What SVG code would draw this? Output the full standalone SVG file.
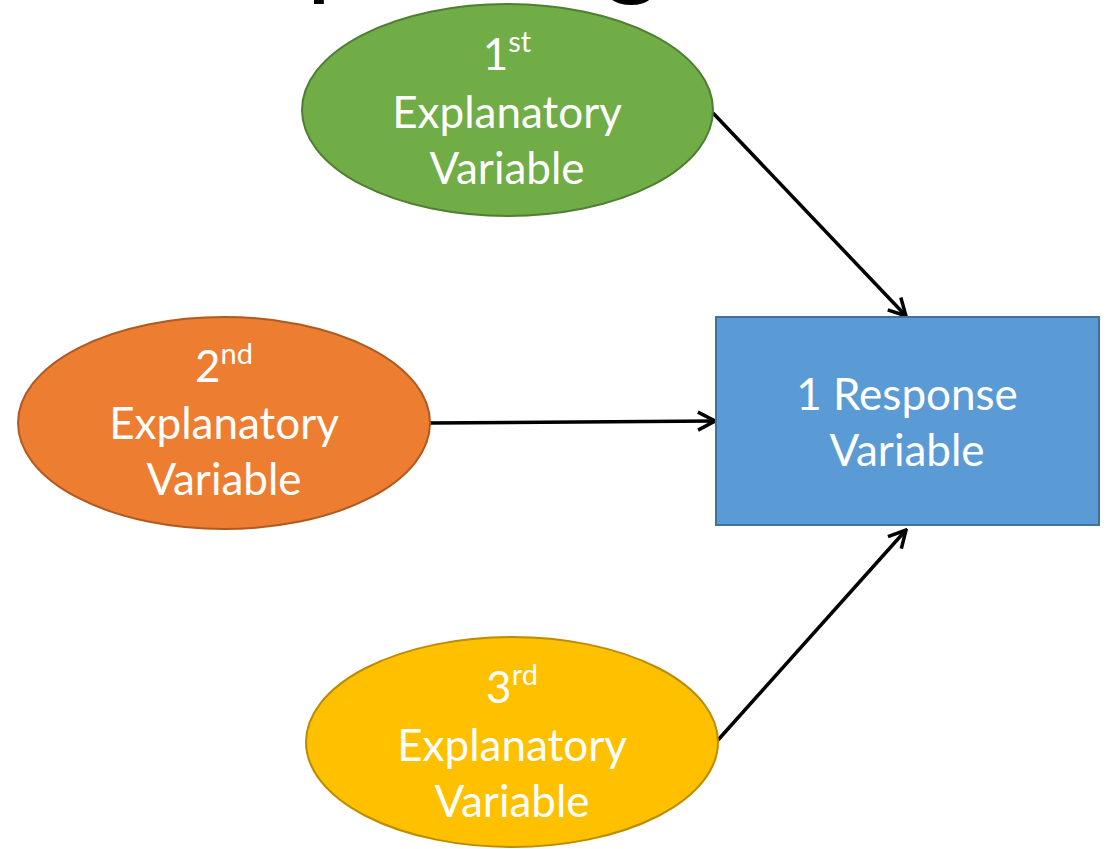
<svg xmlns="http://www.w3.org/2000/svg" width="1107" height="849" viewBox="0 0 1107 849">
<style>
.lbl{font-family:Lato,"Liberation Sans",sans-serif;font-size:44px;fill:#FFFFFF;text-anchor:middle}
.sup{font-size:29px}
.title{font-family:Lato,"Liberation Sans",sans-serif;font-size:110px;fill:#000000}
.edge{stroke:#000000;stroke-width:3.5;fill:none;marker-end:url(#arr)}
</style>
<defs>
<marker id="arr" markerUnits="userSpaceOnUse" viewBox="0 0 22 22" refX="20" refY="11" markerWidth="22" markerHeight="22" orient="auto">
<path d="M3,2 L20,11 L3,20" fill="none" stroke="#000000" stroke-width="3.5"/>
</marker>
</defs>
<rect width="1107" height="849" fill="#FFFFFF"/>
<text class="title" x="50" y="-15">Multiple Regression</text>
<g id="connectors">
<line class="edge" x1="713" y1="113" x2="906" y2="316"/>
<line class="edge" x1="430" y1="423" x2="715" y2="421"/>
<line class="edge" x1="718" y1="740" x2="906" y2="530"/>
</g>
<g id="node1">
<ellipse cx="507.5" cy="110" rx="205.5" ry="106" fill="#70AD47" stroke="#507E32" stroke-width="2"/>
<text class="lbl" x="507" y="70">1<tspan class="sup" dy="-18">st</tspan></text>
<text class="lbl" x="507" y="128">Explanatory</text>
<text class="lbl" x="507" y="184">Variable</text>
</g>
<g id="node2">
<ellipse cx="224" cy="423" rx="206" ry="106" fill="#ED7D31" stroke="#AE5A21" stroke-width="2"/>
<text class="lbl" x="224" y="382">2<tspan class="sup" dy="-18">nd</tspan></text>
<text class="lbl" x="224" y="439">Explanatory</text>
<text class="lbl" x="224" y="495">Variable</text>
</g>
<g id="node3">
<ellipse cx="512" cy="742" rx="206" ry="105" fill="#FFC000" stroke="#BC8C00" stroke-width="2"/>
<text class="lbl" x="512" y="703">3<tspan class="sup" dy="-18">rd</tspan></text>
<text class="lbl" x="512" y="761">Explanatory</text>
<text class="lbl" x="512" y="817">Variable</text>
</g>
<g id="response">
<rect x="716" y="317" width="383" height="208" fill="#5B9BD5" stroke="#41719C" stroke-width="2"/>
<text class="lbl" x="907" y="410">1 Response</text>
<text class="lbl" x="907" y="466">Variable</text>
</g>
</svg>
